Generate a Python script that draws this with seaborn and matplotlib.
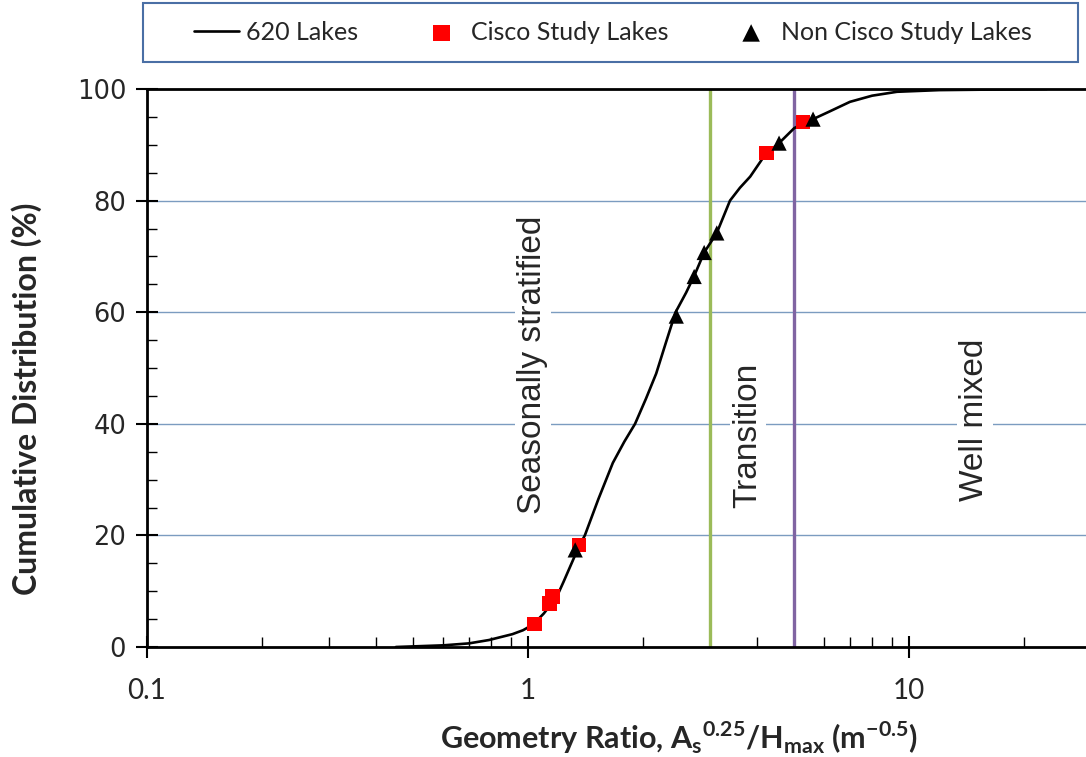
import matplotlib
matplotlib.use("Agg")
import matplotlib.pyplot as plt
import seaborn as sns
import numpy as np
import pandas as pd
from matplotlib.patches import Rectangle
from matplotlib.ticker import LogLocator, MultipleLocator, FixedLocator, NullFormatter

# ---- data ----
cdf_ratio = [0.45, 0.60, 0.70, 0.79, 0.91, 0.97, 1.03, 1.10, 1.19, 1.24, 1.36, 1.41,
             1.53, 1.67, 1.79, 1.91, 2.04, 2.17, 2.30, 2.44, 2.60, 2.73, 2.90, 3.13,
             3.39, 3.60, 3.83, 4.20, 4.56, 5.00, 5.60, 6.20, 7.00, 8.00, 9.30, 12.0, 23.0]
cdf_pct = [0.0, 0.3, 0.65, 1.25, 2.3, 3.0, 4.0, 6.0, 9.0, 11.7, 18.0, 20.0,
           26.5, 33.0, 36.8, 40.0, 44.5, 49.0, 54.5, 60.0, 63.5, 66.5, 70.7, 74.2,
           80.0, 82.3, 84.3, 88.3, 90.3, 93.0, 94.6, 96.0, 97.7, 98.8, 99.5, 99.8, 100.0]
cisco_ratio = [1.04, 1.14, 1.16, 1.36, 4.22, 5.27]
cisco_pct = [4.1, 7.8, 9.0, 18.3, 88.5, 94.1]
noncisco_ratio = [1.33, 2.45, 2.73, 2.90, 3.13, 4.56, 5.60]
noncisco_pct = [17.4, 59.3, 66.4, 70.7, 74.2, 90.3, 94.6]
boundaries = [3.0, 5.0]
boundary_colors = ["#9BBB59", "#8064A2"]
region_labels = ["Seasonally stratified", "Transition", "Well mixed"]
region_x = [1.03, 3.78, 14.9]
region_y = [50.5, 38.0, 40.7]
y_ticks = [0, 20, 40, 60, 80, 100]
x_ticks = [0.1, 1, 10]
x_tick_labels = ["0.1", "1", "10"]

sns.set_style("white")
plt.rcParams["font.family"] = ["Lato", "DejaVu Sans"]
plt.rcParams["mathtext.fontset"] = "custom"
plt.rcParams["mathtext.rm"] = "Lato:bold"

fig = plt.figure(figsize=(10.86, 7.57), dpi=100)
ax = fig.add_axes([147/1086, 1-647/757, (1086-147)/1086, (647-89)/757])

df_cdf = pd.DataFrame({"ratio": cdf_ratio, "pct": cdf_pct})
df_c = pd.DataFrame({"ratio": cisco_ratio, "pct": cisco_pct})
df_n = pd.DataFrame({"ratio": noncisco_ratio, "pct": noncisco_pct})

for yv in y_ticks[1:-1]:
    ax.axhline(yv, color="#7B9CC0", lw=1.0, zorder=0)
for xb, cb in zip(boundaries, boundary_colors):
    ax.axvline(xb, color=cb, lw=2.4, zorder=1)

sns.lineplot(data=df_cdf, x="ratio", y="pct", color="black", lw=1.9, ax=ax,
             label="620 Lakes", zorder=3, sort=False)
sns.scatterplot(data=df_c, x="ratio", y="pct", marker="s", s=110, color="#FF0000",
                edgecolor="none", ax=ax, label="Cisco Study Lakes", zorder=4)
sns.scatterplot(data=df_n, x="ratio", y="pct", marker="^", s=120, color="black",
                edgecolor="none", ax=ax, label="Non Cisco Study Lakes", zorder=5)

for t, xv, yv in zip(region_labels, region_x, region_y):
    ax.text(xv, yv, t, rotation=90, ha="center", va="center", fontsize=24,
            family=["Liberation Sans", "DejaVu Sans"], zorder=2,
            bbox=dict(facecolor="white", edgecolor="none", pad=2))

ax.set_xscale("log")
ax.set_xlim(0.1, 10**1.4646)
ax.set_ylim(0, 100)
ax.xaxis.set_major_locator(FixedLocator(x_ticks))
ax.set_xticklabels(x_tick_labels)
ax.xaxis.set_minor_locator(LogLocator(base=10, subs=np.arange(2, 10)))
ax.xaxis.set_minor_formatter(NullFormatter())
ax.set_yticks(y_ticks)
ax.yaxis.set_minor_locator(MultipleLocator(5))

ax.tick_params(axis="both", which="major", direction="inout", length=16, width=1.5,
               color="black", bottom=True, left=True)
ax.tick_params(axis="both", which="minor", direction="in", length=7, width=1,
               color="black", bottom=True, left=True)
ax.tick_params(axis="x", which="major", labelsize=20, pad=14)
ax.tick_params(axis="y", which="major", labelsize=18.5, pad=7)
for lab in ax.get_yticklabels():
    lab.set_family(["DejaVu Sans"])

for side in ["left", "bottom", "top"]:
    ax.spines[side].set_color("black")
    ax.spines[side].set_linewidth(2)
ax.spines["right"].set_visible(False)

ax.set_xlabel(r"Geometry Ratio, A$_\mathregular{s}$$^\mathregular{0.25}$/H$_\mathregular{max}$ (m$^\mathregular{-0.5}$)",
              fontsize=22, fontweight="bold")
ax.xaxis.set_label_coords((679-147)/939, -(738-647)/558)
ax.xaxis.label.set_va("center")
ax.set_ylabel("Cumulative Distribution (%)", fontsize=23, fontweight="bold")
ax.yaxis.set_label_coords((27-147)/939, (647-399)/558)
ax.yaxis.label.set_va("center")

handles, labels = ax.get_legend_handles_labels()
lg = ax.get_legend()
if lg is not None:
    lg.remove()
fig.legend(handles, labels, loc="center", bbox_to_anchor=(613/1086, 1-32/757),
           ncol=3, frameon=False, fontsize=18, handlelength=1.8, handletextpad=0.3,
           columnspacing=2.4, markerscale=1.15)
fig.patches.append(Rectangle((143/1086, 1-62/757), (1078-143)/1086, (62-3)/757,
                             transform=fig.transFigure, fill=False,
                             edgecolor="#4A6FA5", lw=1.5))

fig.savefig("out.png", dpi=100)
